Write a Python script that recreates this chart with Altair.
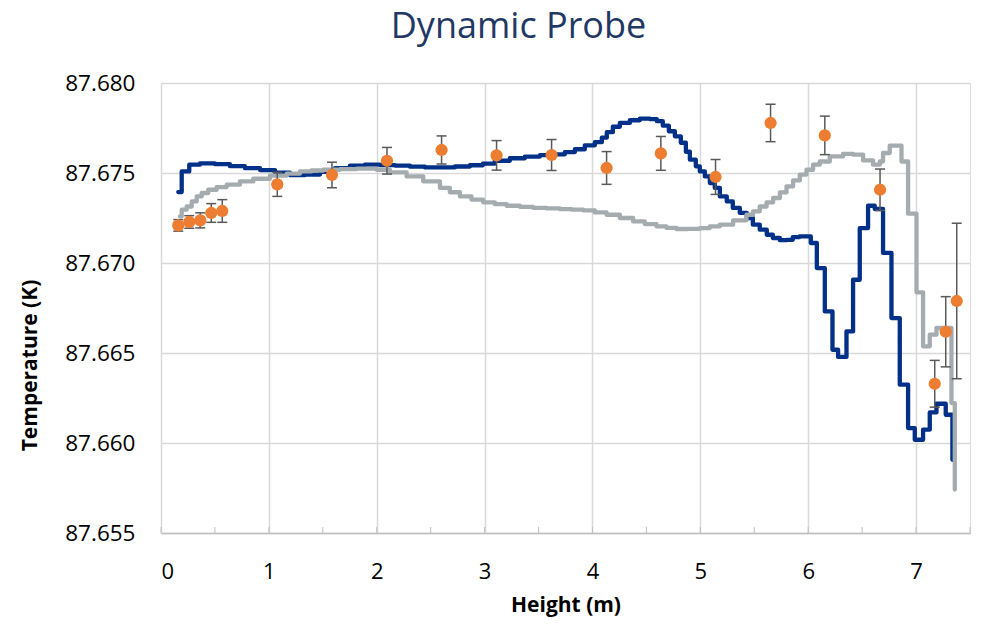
import altair as alt
import pandas as pd

# Simulated temperature profile A (dark blue), stepped output
sim_a_height = [0.160, 0.192, 0.262, 0.361, 0.500, 0.639, 0.778, 0.918, 1.057, 1.196,
                1.335, 1.474, 1.613, 1.752, 1.891, 2.030, 2.169, 2.308, 2.447, 2.586,
                2.725, 2.864, 2.984, 3.095, 3.234, 3.373, 3.513, 3.652, 3.744, 3.837,
                3.929, 4.022, 4.087, 4.133, 4.189, 4.254, 4.347, 4.439, 4.532, 4.597,
                4.652, 4.708, 4.764, 4.819, 4.866, 4.903, 4.958, 4.995, 5.042, 5.088,
                5.134, 5.181, 5.245, 5.301, 5.366, 5.431, 5.487, 5.551, 5.616, 5.672,
                5.737, 5.802, 5.857, 5.920, 6.024, 6.080, 6.154, 6.225, 6.277, 6.355,
                6.416, 6.478, 6.555, 6.617, 6.694, 6.772, 6.849, 6.926, 6.988, 7.065,
                7.127, 7.189, 7.275, 7.337]
sim_a_temp = [87.67394, 87.67509, 87.67546, 87.67554, 87.67549, 87.67538, 87.67527, 87.67516, 87.67502, 87.67488,
              87.67491, 87.67507, 87.67527, 87.67541, 87.67546, 87.67544, 87.67541, 87.67535, 87.67531, 87.67531,
              87.67536, 87.67543, 87.67552, 87.67568, 87.67582, 87.67591, 87.67599, 87.67604, 87.67616, 87.67632,
              87.67654, 87.67671, 87.67696, 87.67727, 87.67757, 87.67778, 87.67793, 87.67802, 87.67799, 87.67788,
              87.67763, 87.67732, 87.67704, 87.67668, 87.67618, 87.67574, 87.67537, 87.67509, 87.67481, 87.67444,
              87.67417, 87.67370, 87.67342, 87.67306, 87.67278, 87.67250, 87.67213, 87.67185, 87.67157, 87.67139,
              87.67127, 87.67129, 87.67144, 87.67148, 87.67111, 87.66972, 87.66731, 87.66518, 87.66478, 87.66620,
              87.66907, 87.67194, 87.67318, 87.67300, 87.67056, 87.66694, 87.66324, 87.66083, 87.66018, 87.66074,
              87.66170, 87.66218, 87.66157, 87.65907]

# Simulated temperature profile B (grey), stepped output
sim_b_height = [0.176, 0.192, 0.238, 0.285, 0.331, 0.377, 0.438, 0.516, 0.609, 0.732,
                0.855, 1.010, 1.165, 1.288, 1.396, 1.504, 1.659, 1.814, 1.999, 2.122,
                2.277, 2.431, 2.586, 2.678, 2.771, 2.879, 2.987, 3.095, 3.204, 3.327,
                3.450, 3.574, 3.698, 3.806, 3.914, 4.022, 4.131, 4.254, 4.377, 4.485,
                4.594, 4.686, 4.779, 4.887, 4.995, 5.088, 5.181, 5.304, 5.428, 5.489,
                5.551, 5.614, 5.675, 5.738, 5.799, 5.860, 5.922, 5.984, 6.045, 6.107,
                6.200, 6.323, 6.416, 6.509, 6.601, 6.664, 6.694, 6.756, 6.865, 6.926,
                7.004, 7.065, 7.127, 7.189, 7.328, 7.359]
sim_b_temp = [87.67259, 87.67296, 87.67314, 87.67342, 87.67370, 87.67389, 87.67407, 87.67422, 87.67435, 87.67453,
              87.67468, 87.67485, 87.67496, 87.67509, 87.67514, 87.67518, 87.67522, 87.67524, 87.67518, 87.67503,
              87.67481, 87.67454, 87.67417, 87.67393, 87.67370, 87.67352, 87.67337, 87.67327, 87.67318, 87.67312,
              87.67306, 87.67303, 87.67299, 87.67296, 87.67292, 87.67281, 87.67268, 87.67250, 87.67231, 87.67216,
              87.67203, 87.67195, 87.67189, 87.67190, 87.67194, 87.67203, 87.67213, 87.67237, 87.67268, 87.67287,
              87.67314, 87.67337, 87.67361, 87.67392, 87.67426, 87.67459, 87.67491, 87.67518, 87.67546, 87.67564,
              87.67592, 87.67606, 87.67602, 87.67570, 87.67546, 87.67564, 87.67611, 87.67652, 87.67564, 87.67274,
              87.66837, 87.66537, 87.66602, 87.66639, 87.66222, 87.65741]

# Dynamic probe measurements with uncertainty
probe_height = [0.160, 0.262, 0.364, 0.466, 0.568, 1.078, 1.585, 2.095, 2.601, 3.111,
                3.621, 4.131, 4.634, 5.141, 5.651, 6.154, 6.666, 7.173, 7.275, 7.377]
probe_temp = [87.67209, 87.67228, 87.67237, 87.67278, 87.67289, 87.67437, 87.67489, 87.67568, 87.67628, 87.67598,
              87.67600, 87.67528, 87.67609, 87.67478, 87.67778, 87.67709, 87.67407, 87.66329, 87.66618, 87.66789]
probe_err = [0.00032, 0.00035, 0.00042, 0.00052, 0.00063, 0.00067, 0.00071, 0.00074, 0.00078, 0.00082,
             0.00086, 0.00091, 0.00094, 0.00097, 0.00104, 0.00107, 0.00115, 0.00130, 0.00195, 0.00432]

x_tick_values = [0, 1, 2, 3, 4, 5, 6, 7]
x_minor_ticks = [0.0, 0.5, 1.0, 1.5, 2.0, 2.5, 3.0, 3.5, 4.0, 4.5, 5.0, 5.5, 6.0, 6.5, 7.0, 7.5]
y_tick_values = [87.655, 87.660, 87.665, 87.670, 87.675, 87.680]

W, H = 809, 450
FONT = "Open Sans"

x_scale = alt.Scale(domain=[0, 7.5], nice=False, zero=False)
y_scale = alt.Scale(domain=[87.655, 87.680], nice=False, zero=False)

x_axis = alt.Axis(
    title="Height (m)", values=x_tick_values, format="d",
    grid=True, gridColor="#D9D9D9", gridWidth=1.5,
    ticks=False, domain=True, domainColor="#BFBFBF", domainWidth=1.5,
    labelFont=FONT, labelFontSize=22, labelColor="#000000", labelPadding=28,
    titleFont=FONT, titleFontSize=21, titleFontWeight="bold", titleColor="#000000",
    titleX=W / 2, titleY=72, titleBaseline="middle", titleAlign="center",
)
y_axis = alt.Axis(
    title="Temperature (K)", values=y_tick_values, format=".3f",
    grid=True, gridColor="#D9D9D9", gridWidth=1.5,
    ticks=False, domain=False,
    labelFont=FONT, labelFontSize=22.5, labelColor="#000000", labelPadding=26,
    titleFont=FONT, titleFontSize=21, titleFontWeight="bold", titleColor="#000000",
    titleAngle=270, titleX=-131, titleY=282, titleBaseline="middle", titleAlign="center",
)

x_enc = alt.X("h:Q", scale=x_scale, axis=x_axis)

sim_a = pd.DataFrame({"h": sim_a_height, "t": sim_a_temp})
sim_b = pd.DataFrame({"h": sim_b_height, "t": sim_b_temp})
probe = pd.DataFrame({"h": probe_height, "t": probe_temp, "e": probe_err})
probe["lo"] = probe["t"] - probe["e"]
probe["hi"] = probe["t"] + probe["e"]
minor = pd.DataFrame({"h": x_minor_ticks})

line_a = alt.Chart(sim_a).mark_line(
    color="#003087", strokeWidth=4.3, interpolate="step-after", strokeJoin="round", strokeCap="round"
).encode(x=x_enc, y=alt.Y("t:Q", scale=y_scale, axis=y_axis))

line_b = alt.Chart(sim_b).mark_line(
    color="#A5ACAF", strokeWidth=4.3, interpolate="step-after", strokeJoin="round", strokeCap="round"
).encode(x=x_enc, y=alt.Y("t:Q", scale=y_scale, axis=y_axis))

err_bar = alt.Chart(probe).mark_rule(color="#595959", strokeWidth=1.5).encode(
    x=x_enc, y=alt.Y("lo:Q", scale=y_scale, axis=y_axis), y2="hi:Q"
)
cap_hi = alt.Chart(probe).mark_rule(color="#595959", strokeWidth=1.5, xOffset=-5, x2Offset=5).encode(
    x=x_enc, x2="h:Q", y=alt.Y("hi:Q", scale=y_scale, axis=y_axis)
)
cap_lo = alt.Chart(probe).mark_rule(color="#595959", strokeWidth=1.5, xOffset=-5, x2Offset=5).encode(
    x=x_enc, x2="h:Q", y=alt.Y("lo:Q", scale=y_scale, axis=y_axis)
)
points = alt.Chart(probe).mark_point(
    filled=True, color="#ED7D31", size=150, opacity=1, shape="circle"
).encode(x=x_enc, y=alt.Y("t:Q", scale=y_scale, axis=y_axis))

minor_ticks = alt.Chart(minor).mark_rule(color="#BFBFBF", strokeWidth=1).encode(
    x=x_enc, y=alt.value(H - 6), y2=alt.value(H)
)

chart = alt.layer(
    minor_ticks, line_a, line_b, err_bar, cap_hi, cap_lo, points
).properties(
    width=W, height=H,
    title=alt.TitleParams(
        "Dynamic Probe", font=FONT, fontSize=36, fontWeight="normal",
        color="#1F3864", anchor="middle", dx=-47, offset=26,
    ),
    padding={"left": 161, "top": 83, "right": 25, "bottom": 91},
    autosize=alt.AutoSizeParams(type="none"),
).configure_view(stroke=None).configure(background="white")

chart.save("out.html", embed_options={"renderer": "svg", "actions": False})
